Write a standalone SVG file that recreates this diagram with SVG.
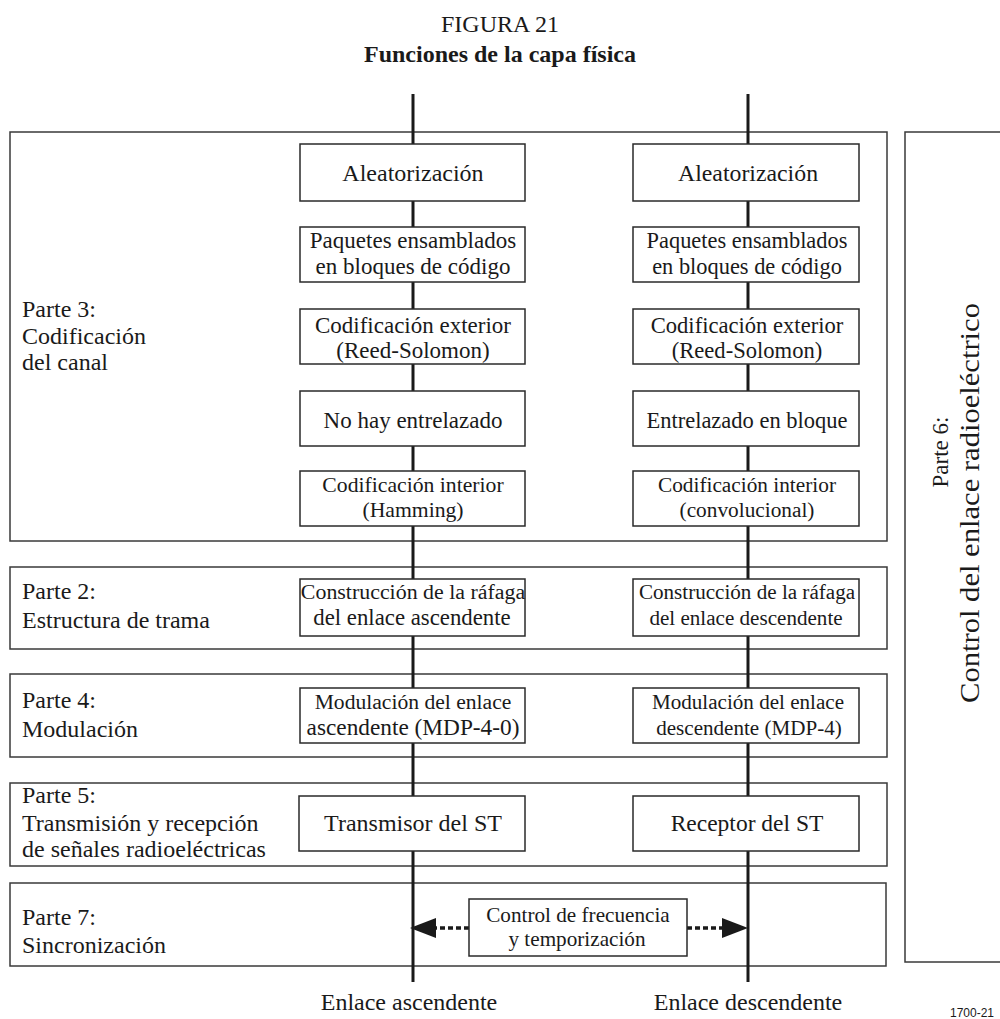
<svg xmlns="http://www.w3.org/2000/svg" width="1000" height="1019" viewBox="0 0 1000 1019">
  <style>
    .t { font-size: 24px; fill: #1a1a1a; }
    .c { text-anchor: middle; }
    .title { font-size: 24px; text-anchor: middle; fill: #1a1a1a; }
    .frame { fill: none; stroke: #3a3a3a; stroke-width: 1.5; }
    .box { fill: #ffffff; stroke: #2a2a2a; stroke-width: 1.5; }
    .flow { stroke: #1a1a1a; stroke-width: 3; fill: none; }
    .dot { stroke: #1a1a1a; stroke-width: 3.5; stroke-dasharray: 5 3; fill: none; }
    .head { fill: #1a1a1a; }
  </style>

  <g font-family="'Liberation Serif', 'Times New Roman', Times, 'DejaVu Serif', serif">
  <!-- headings -->
  <text class="title" x="500" y="32">FIGURA 21</text>
  <text class="title" x="500" y="62" font-weight="bold">Funciones de la capa física</text>

  <!-- layer frames -->
  <g id="parte3">
    <rect class="frame" x="10" y="132" width="877" height="409"/>
    <text class="t" x="22" y="317">Parte 3:</text>
    <text class="t" x="22" y="344">Codificación</text>
    <text class="t" x="22" y="370">del canal</text>
  </g>
  <g id="parte2">
    <rect class="frame" x="10" y="567" width="877" height="82"/>
    <text class="t" x="22" y="599">Parte 2:</text>
    <text class="t" x="22" y="628">Estructura de trama</text>
  </g>
  <g id="parte4">
    <rect class="frame" x="10" y="674" width="877" height="83"/>
    <text class="t" x="22" y="708">Parte 4:</text>
    <text class="t" x="22" y="737">Modulación</text>
  </g>
  <g id="parte5">
    <rect class="frame" x="10" y="783" width="877" height="83"/>
    <text class="t" x="22" y="803">Parte 5:</text>
    <text class="t" x="22" y="831">Transmisión y recepción</text>
    <text class="t" x="22" y="857">de señales radioeléctricas</text>
  </g>
  <g id="parte7">
    <rect class="frame" x="10" y="883" width="876" height="83"/>
    <text class="t" x="22" y="925">Parte 7:</text>
    <text class="t" x="22" y="953">Sincronización</text>
  </g>
  <g id="parte6">
    <rect class="frame" x="905" y="132" width="110" height="830"/>
    <text class="c" font-size="23" fill="#1a1a1a" transform="translate(948,452) rotate(-90)">Parte 6:</text>
    <text class="c" font-size="27" fill="#1a1a1a" textLength="400" lengthAdjust="spacingAndGlyphs" transform="translate(979,503) rotate(-90)">Control del enlace radioeléctrico</text>
  </g>

  <!-- uplink and downlink chains, plus the synchronisation arrows -->
  <g id="connectors">
    <line class="flow" x1="413" y1="94" x2="413" y2="982"/>
    <line class="flow" x1="748" y1="94" x2="748" y2="982"/>
    <line class="dot" x1="469" y1="928" x2="434" y2="928"/>
    <polygon class="head" points="410,928 436,918 436,938"/>
    <line class="dot" x1="687" y1="928" x2="724" y2="928"/>
    <polygon class="head" points="748,928 722,918 722,938"/>
  </g>

  <!-- uplink blocks -->
  <g id="up-aleatorizacion" class="c" fill="#1a1a1a">
    <rect class="box" x="300" y="144" width="225" height="57"/>
    <text x="413" y="181" font-size="24">Aleatorización</text>
  </g>
  <g id="up-paquetes" class="c" fill="#1a1a1a" font-size="23">
    <rect class="box" x="300" y="227" width="225" height="55"/>
    <text x="413" y="248">Paquetes ensamblados</text>
    <text x="413" y="274">en bloques de código</text>
  </g>
  <g id="up-exterior" class="c" fill="#1a1a1a" font-size="23">
    <rect class="box" x="300" y="309" width="225" height="55"/>
    <text x="413" y="333">Codificación exterior</text>
    <text x="413" y="358">(Reed-Solomon)</text>
  </g>
  <g id="up-entrelazado" class="c" fill="#1a1a1a" font-size="23">
    <rect class="box" x="300" y="391" width="225" height="55"/>
    <text x="413" y="428">No hay entrelazado</text>
  </g>
  <g id="up-interior" class="c" fill="#1a1a1a" font-size="21.7">
    <rect class="box" x="300" y="471" width="225" height="55"/>
    <text x="413" y="492">Codificación interior</text>
    <text x="413" y="517">(Hamming)</text>
  </g>
  <g id="up-rafaga" class="c" fill="#1a1a1a">
    <rect class="box" x="300" y="579" width="225" height="57"/>
    <text x="413" y="599" font-size="21.9">Construcción de la ráfaga</text>
    <text x="412" y="625" font-size="22.8">del enlace ascendente</text>
  </g>
  <g id="up-modulacion" class="c" fill="#1a1a1a">
    <rect class="box" x="300" y="688" width="225" height="55"/>
    <text x="413" y="709" font-size="21.6">Modulación del enlace</text>
    <text x="413" y="735" font-size="23.3">ascendente (MDP-4-0)</text>
  </g>
  <g id="up-transmisor" class="c" fill="#1a1a1a" font-size="24">
    <rect class="box" x="299" y="796" width="226" height="55"/>
    <text x="413" y="831">Transmisor del ST</text>
  </g>

  <!-- downlink blocks -->
  <g id="down-aleatorizacion" class="c" fill="#1a1a1a" font-size="23.8">
    <rect class="box" x="633" y="144" width="226" height="57"/>
    <text x="748" y="181">Aleatorización</text>
  </g>
  <g id="down-paquetes" class="c" fill="#1a1a1a" font-size="22.4">
    <rect class="box" x="633" y="227" width="226" height="55"/>
    <text x="747" y="248">Paquetes ensamblados</text>
    <text x="747" y="274">en bloques de código</text>
  </g>
  <g id="down-exterior" class="c" fill="#1a1a1a" font-size="22.6">
    <rect class="box" x="633" y="309" width="226" height="55"/>
    <text x="747" y="333">Codificación exterior</text>
    <text x="747" y="358">(Reed-Solomon)</text>
  </g>
  <g id="down-entrelazado" class="c" fill="#1a1a1a" font-size="22.5">
    <rect class="box" x="633" y="391" width="226" height="55"/>
    <text x="747" y="428">Entrelazado en bloque</text>
  </g>
  <g id="down-interior" class="c" fill="#1a1a1a" font-size="21.3">
    <rect class="box" x="633" y="471" width="226" height="55"/>
    <text x="747" y="492">Codificación interior</text>
    <text x="747" y="517">(convolucional)</text>
  </g>
  <g id="down-rafaga" class="c" fill="#1a1a1a" font-size="21.1">
    <rect class="box" x="633" y="579" width="226" height="57"/>
    <text x="747" y="599">Construcción de la ráfaga</text>
    <text x="746" y="625">del enlace descendente</text>
  </g>
  <g id="down-modulacion" class="c" fill="#1a1a1a" font-size="21.1">
    <rect class="box" x="633" y="688" width="226" height="55"/>
    <text x="748" y="709">Modulación del enlace</text>
    <text x="749" y="735">descendente (MDP-4)</text>
  </g>
  <g id="down-receptor" class="c" fill="#1a1a1a" font-size="23.5">
    <rect class="box" x="633" y="796" width="226" height="55"/>
    <text x="747" y="831">Receptor del ST</text>
  </g>

  <!-- synchronisation block -->
  <g id="sync-control" class="c" fill="#1a1a1a" font-size="21.2">
    <rect class="box" x="469" y="899" width="218" height="57"/>
    <text x="578" y="922">Control de frecuencia</text>
    <text x="577" y="946">y temporización</text>
  </g>

  <!-- chain labels -->
  <text class="t c" x="409" y="1010">Enlace ascendente</text>
  <text class="t c" x="748" y="1010">Enlace descendente</text>
  </g>
  <text x="950" y="1017" font-family="'Liberation Sans', Arial, sans-serif" font-size="12" fill="#1a1a1a">1700-21</text>
</svg>
